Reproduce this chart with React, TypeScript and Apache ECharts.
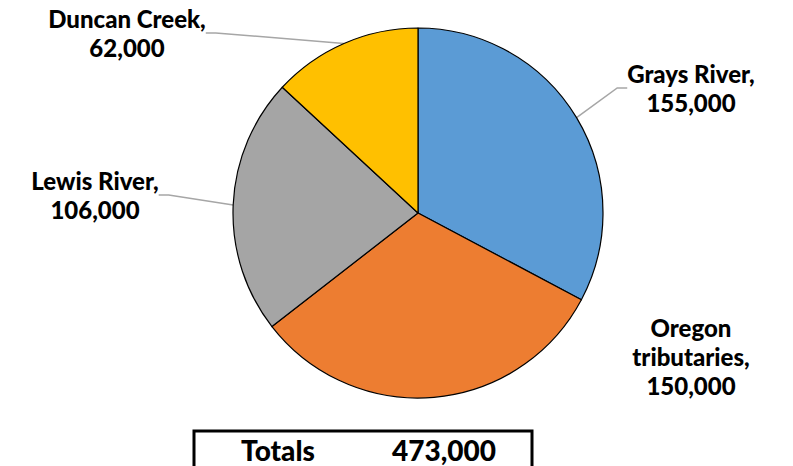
import React, { useEffect, useRef } from "react";
import * as echarts from "echarts";

const categories = ["Grays River", "Oregon tributaries", "Lewis River", "Duncan Creek"];
const values = [155000, 150000, 106000, 62000];
const colors = ["#5B9BD5", "#ED7D31", "#A5A5A5", "#FFC000"];
const labelNames = ["Grays River,", "Oregon\ntributaries,", "Lewis River,", "Duncan Creek,"];
const labelAnchors = [
  [691, 88],
  [691, 356],
  [95, 195],
  [127, 33],
];

const fmt = (v: number) => v.toLocaleString("en-US");

export default function App() {
  const ref = useRef<HTMLDivElement>(null);
  useEffect(() => {
    if (!ref.current) return;
    const chart = echarts.init(ref.current, undefined, { renderer: "svg" });
    const total = values.reduce((a, b) => a + b, 0);
    const font = "Lato, 'Open Sans', sans-serif";
    chart.setOption({
      animation: false,
      backgroundColor: "#ffffff",
      graphic: [
        {
          type: "rect",
          shape: { x: 194, y: 431, width: 338, height: 50 },
          style: { fill: "#fff", stroke: "#000", lineWidth: 3 },
        },
        {
          type: "text",
          x: 278,
          y: 450,
          style: {
            text: "Totals",
            fontFamily: font,
            fontWeight: 900,
            fontSize: 28,
            fill: "#000",
            align: "center",
            verticalAlign: "middle",
          },
        },
        {
          type: "text",
          x: 444,
          y: 450,
          style: {
            text: fmt(total),
            fontFamily: font,
            fontWeight: 900,
            fontSize: 28,
            fill: "#000",
            align: "center",
            verticalAlign: "middle",
          },
        },
      ],
      series: [
        {
          type: "pie",
          center: [418, 213],
          radius: 185,
          startAngle: 90,
          clockwise: true,
          itemStyle: { borderColor: "#000", borderWidth: 1.2 },
          label: {
            show: true,
            position: "outside",
            fontFamily: font,
            fontWeight: 900,
            fontSize: 24,
            lineHeight: 29,
            color: "#000",
            align: "center",
            formatter: (p: any) => labelNames[p.dataIndex] + "\n" + fmt(p.value),
          },
          labelLine: {
            show: true,
            length: 20,
            length2: 10,
            lineStyle: { color: "#A6A6A6", width: 1.5 },
          },
          labelLayout: (p: any) => {
            const a = labelAnchors[p.dataIndex];
            return { x: a[0], y: a[1], align: "center", verticalAlign: "middle" };
          },
          emphasis: { disabled: true },
          data: categories.map((c, i) => ({
            name: c,
            value: values[i],
            itemStyle: { color: colors[i] },
            labelLine: { show: i !== 1 },
          })),
        },
      ],
    });
    return () => chart.dispose();
  }, []);
  return (
    <div
      ref={ref}
      style={{ position: "fixed", left: 0, top: 0, width: 793, height: 466 }}
    />
  );
}
